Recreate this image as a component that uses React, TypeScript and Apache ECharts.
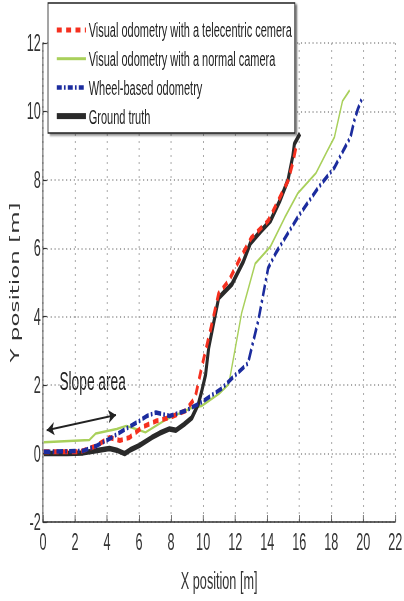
import React, { useEffect, useRef } from "react";
import * as echarts from "echarts";

// The reference image is horizontally compressed; the chart is drawn wide and squeezed.
const SX = 0.55;
const W = 404 / SX;
const H = 601;

const FONT = "'Liberation Sans', Arial, sans-serif";

const seriesNames = [
  "Visual odometry with a telecentric cemera",
  "Visual odometry with a normal camera",
  "Wheel-based odometry",
  "Ground truth",
];

const telecentric: number[][] = [
  [0.05, 0.05], [2.3, 0.05], [3.3, 0.22], [4.15, 0.47], [4.8, 0.38], [5.4, 0.47],
  [6.2, 0.77], [7.05, 0.95], [7.9, 1.05], [8.9, 1.25], [9.5, 1.63], [9.9, 2.5],
  [10.5, 3.7], [10.97, 4.68], [11.6, 5.05], [12.3, 5.7], [13.0, 6.3], [14.06, 6.8],
  [14.7, 7.4], [15.3, 7.97], [15.6, 8.5], [15.8, 8.95],
];

const normalCam: number[][] = [
  [0.05, 0.33], [2.9, 0.4], [3.3, 0.59], [4.6, 0.72], [5.2, 0.81], [5.8, 0.72],
  [6.4, 0.62], [7.7, 1.0], [9.3, 1.34], [9.9, 1.39], [11.0, 1.75], [11.6, 2.03],
  [12.4, 4.1], [13.25, 5.55], [14.2, 6.05], [15.1, 6.9], [15.9, 7.6], [17.05, 8.2],
  [17.7, 8.8], [18.2, 9.25], [18.7, 10.3], [19.15, 10.62],
];

const wheel: number[][] = [
  [0.05, 0.05], [2.5, 0.08], [3.3, 0.22], [4.15, 0.43], [5.2, 0.73], [6.0, 0.95],
  [6.5, 1.1], [7.05, 1.2], [7.9, 1.1], [8.9, 1.25], [9.9, 1.5], [11.15, 1.9],
  [11.8, 2.2], [12.8, 2.64], [13.45, 3.9], [14.06, 5.42], [14.55, 5.87], [15.9, 6.9],
  [17.2, 7.78], [18.2, 8.36], [18.8, 8.9], [19.2, 9.25], [19.45, 9.75], [19.64, 10.04],
  [19.95, 10.42],
];

const groundTruth: number[][] = [
  [0.05, 0.0], [1.5, 0.0], [2.5, 0.02], [3.1, 0.07], [4.15, 0.15], [4.6, 0.1],
  [5.1, 0.0], [5.5, 0.12], [6.0, 0.23], [6.8, 0.47], [7.3, 0.6], [7.9, 0.72],
  [8.3, 0.68], [8.8, 0.85], [9.3, 1.05], [9.7, 1.45], [9.9, 1.8], [10.15, 2.3],
  [10.35, 3.1], [10.97, 4.55], [11.8, 4.95], [12.5, 5.6], [12.95, 6.15], [13.6, 6.5],
  [14.2, 6.8], [14.8, 7.4], [15.3, 8.0], [15.6, 8.7], [15.7, 9.05], [16.05, 9.35],
];

const slopeArrow: number[][] = [[0.23, 0.68], [4.56, 1.13]];
const slopeLabel = "Slope area";

const xRange = { min: 0, max: 22, interval: 2 };
const yRange = { min: -2, max: 12, interval: 2 };

export default function App() {
  const ref = useRef<HTMLDivElement>(null);
  useEffect(() => {
    const chart = echarts.init(ref.current!, null, { renderer: "svg", width: W, height: H });
    const axisCommon = {
      axisLine: { show: true, onZero: false, lineStyle: { color: "#333", width: 1.5 } },
      axisTick: { show: true, inside: true, length: 7, lineStyle: { color: "#333", width: 1.2 } },
      splitLine: { show: true, lineStyle: { color: "#a8a8a8", width: 1.8, type: [2, 5] } },
      axisLabel: { fontSize: 23, fontFamily: FONT, color: "#333" },
      nameTextStyle: { fontSize: 23, fontFamily: FONT, color: "#333" },
    };
    chart.setOption({
      animation: false,
      backgroundColor: "#fff",
      grid: { left: 43 / SX, right: 5 / SX, top: 43, bottom: 79 },
      xAxis: {
        type: "value",
        ...xRange,
        ...axisCommon,
        axisLabel: { ...axisCommon.axisLabel, margin: 8 },
        name: "X position [m]",
        nameLocation: "middle",
        nameGap: 47,
      },
      yAxis: {
        type: "value",
        ...yRange,
        ...axisCommon,
        axisLabel: { ...axisCommon.axisLabel, margin: 4 },
        name: "Y position [m]",
        nameLocation: "middle",
        nameGap: 29,
        nameTextStyle: { fontSize: 23, fontFamily: "'DejaVu Sans', sans-serif", color: "#333" },
      },
      legend: {
        data: [
          { name: seriesNames[0], lineStyle: { width: 5, type: [9, 8] } },
          { name: seriesNames[1], lineStyle: { width: 3 } },
          { name: seriesNames[2], lineStyle: { width: 4.5, type: [9, 4, 3, 4] } },
          { name: seriesNames[3], lineStyle: { width: 6 } },
        ],
        orient: "vertical",
        left: 48 / SX,
        top: 3,
        padding: [17, 5, 7, 13],
        itemGap: 8.7,
        itemWidth: 53,
        itemHeight: 14,
        itemStyle: { opacity: 0 },
        textStyle: { fontSize: 20, fontFamily: FONT, color: "#222" },
        backgroundColor: "#fff",
        borderColor: "#222",
        borderWidth: 1.5,
        shadowColor: "rgba(0,0,0,0.45)",
        shadowBlur: 2,
        shadowOffsetX: 4,
        shadowOffsetY: 2,
      },
      graphic: [
        {
          type: "text",
          left: 108,
          top: 369,
          style: { text: slopeLabel, font: `25px ${FONT}`, fill: "#222" },
        },
      ],
      series: [
        {
          name: seriesNames[1],
          type: "line",
          data: normalCam,
          showSymbol: false,
          symbol: "none",
          z: 2,
          lineStyle: { color: "#a9d05b", width: 2.5 },
          itemStyle: { color: "#a9d05b" },
          markLine: {
            silent: true,
            symbol: ["arrow", "arrow"],
            symbolSize: [10, 14],
            label: { show: false },
            lineStyle: { color: "#222", width: 2, type: "solid" },
            data: [[{ coord: slopeArrow[0] }, { coord: slopeArrow[1] }]],
          },
        },
        {
          name: seriesNames[3],
          type: "line",
          data: groundTruth,
          showSymbol: false,
          symbol: "none",
          z: 3,
          lineStyle: { color: "#2a2a2a", width: 5.5 },
          itemStyle: { color: "#2a2a2a" },
        },
        {
          name: seriesNames[0],
          type: "line",
          data: telecentric,
          showSymbol: false,
          symbol: "none",
          z: 4,
          lineStyle: { color: "#f5301f", width: 5, type: [10, 7] },
          itemStyle: { color: "#f5301f" },
        },
        {
          name: seriesNames[2],
          type: "line",
          data: wheel,
          showSymbol: false,
          symbol: "none",
          z: 5,
          lineStyle: { color: "#1c2c9e", width: 4.5, type: [12, 4, 3, 4] },
          itemStyle: { color: "#1c2c9e" },
        },
      ],
    });
    return () => chart.dispose();
  }, []);
  return (
    <div
      style={{
        position: "fixed",
        left: 0,
        top: 0,
        width: 404,
        height: 601,
        overflow: "hidden",
        background: "#fff",
      }}
    >
      <div
        ref={ref}
        style={{ width: W, height: H, transform: `scaleX(${SX})`, transformOrigin: "0 0" }}
      />
    </div>
  );
}
